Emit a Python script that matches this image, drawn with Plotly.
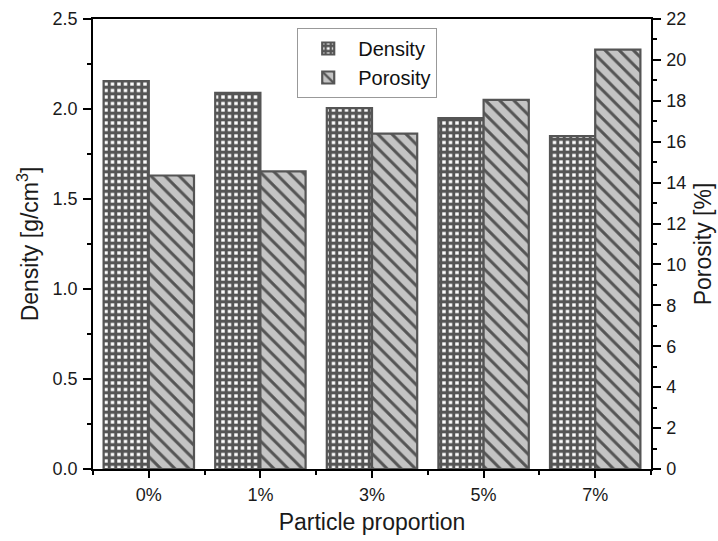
import plotly.graph_objects as go

# Sample data: density and porosity versus particle proportion
categories = ["0%", "1%", "3%", "5%", "7%"]
density = [2.155, 2.09, 2.005, 1.95, 1.85]      # g/cm3
porosity = [14.35, 14.55, 16.4, 18.05, 20.5]    # %

positions = list(range(len(categories)))

FONT = "Liberation Sans, Arial, sans-serif"
EDGE = "#555555"
TXT = "#1a1a1a"

fig = go.Figure()

fig.add_trace(go.Bar(
    x=positions, y=density, name="Density",
    offsetgroup="d", yaxis="y",
    marker=dict(
        color="white",
        line=dict(color=EDGE, width=2.2),
        pattern=dict(shape="+", fgcolor=EDGE, bgcolor="white",
                     size=6.5, solidity=0.72, fillmode="replace"),
    ),
))

fig.add_trace(go.Bar(
    x=positions, y=porosity, name="Porosity",
    offsetgroup="p", yaxis="y2",
    marker=dict(
        color="#c4c4c4",
        line=dict(color=EDGE, width=2.2),
        pattern=dict(shape="\\", fgcolor=EDGE, bgcolor="#c4c4c4",
                     size=10, solidity=0.3, fillmode="replace"),
    ),
))

axis_common = dict(
    showline=True, linecolor="black", linewidth=1.5,
    ticks="outside", tickcolor="black", tickwidth=1.5,
    showgrid=False, zeroline=False, automargin=False,
    tickfont=dict(family=FONT, size=18, color=TXT),
)
title_font = dict(family=FONT, size=23, color=TXT)
minor_tick = dict(ticks="outside", ticklen=4, tickcolor="black", tickwidth=1.5)

fig.update_layout(
    width=718, height=541,
    margin=dict(l=93, r=67, t=19, b=72),
    paper_bgcolor="white", plot_bgcolor="white",
    barmode="group", bargap=0.19, bargroupgap=0,
    font=dict(family=FONT, color=TXT),
    xaxis=dict(
        **axis_common,
        range=[-0.5, len(categories) - 0.5],
        tickmode="array", tickvals=positions, ticktext=categories,
        ticklen=7, mirror=True, ticklabelstandoff=2,
        minor=dict(tickmode="array",
                   tickvals=[p + 0.5 for p in [-1] + positions], **minor_tick),
        title=dict(text="Particle proportion", font=title_font, standoff=10),
    ),
    yaxis=dict(
        **axis_common,
        range=[0, 2.5], dtick=0.5, tickformat=".1f", ticklen=8,
        ticklabelstandoff=2,
        minor=dict(dtick=0.25, **minor_tick),
        title=dict(text="Density [g/cm<sup>3</sup>]", font=title_font, standoff=8),
    ),
    yaxis2=dict(
        **axis_common,
        overlaying="y", side="right",
        range=[0, 22], dtick=2, ticklen=8, ticklabelstandoff=2,
        minor=dict(dtick=1, **minor_tick),
        title=dict(text="Porosity [%]", font=title_font, standoff=10),
    ),
    legend=dict(
        x=0.366, y=0.98, xanchor="left", yanchor="top",
        bgcolor="white", bordercolor="#999", borderwidth=1,
        font=dict(family=FONT, size=20, color="#111"),
        itemwidth=50, tracegroupgap=0,
    ),
)

fig.write_html("out.html")
